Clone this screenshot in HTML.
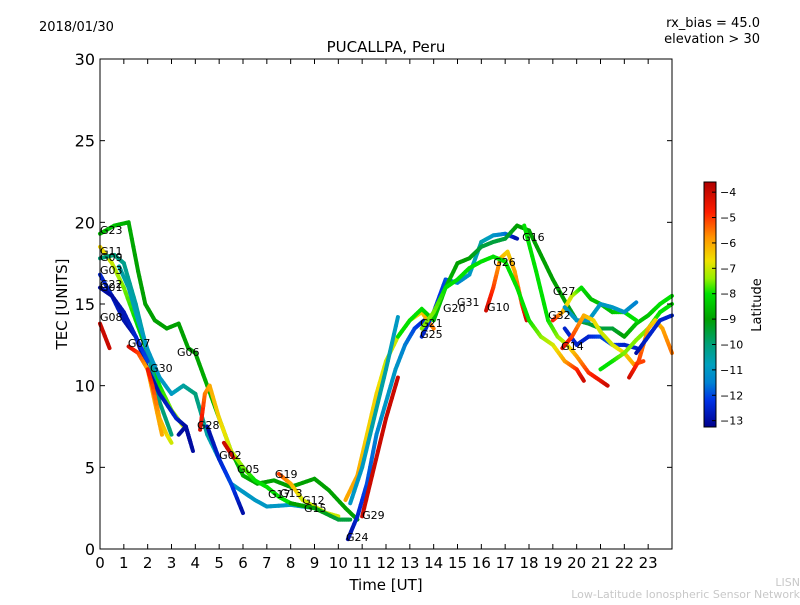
<!DOCTYPE html>
<html><head><meta charset="utf-8"><style>
body{margin:0;background:#fff;}
svg text{font-family:"DejaVu Sans","Liberation Sans",sans-serif;}
</style></head><body>
<svg id="chart" width="800" height="600" xmlns="http://www.w3.org/2000/svg">
<text x="39" y="31" font-size="13">2018/01/30</text>
<text x="760" y="27" font-size="13" text-anchor="end">rx_bias = 45.0</text>
<text x="760" y="43" font-size="13" text-anchor="end">elevation &gt; 30</text>
<text x="386" y="52" font-size="15" text-anchor="middle">PUCALLPA, Peru</text>
<text x="386" y="590" font-size="15" text-anchor="middle">Time [UT]</text>
<text transform="translate(67,304) rotate(-90)" font-size="15" text-anchor="middle">TEC [UNITS]</text>
<text transform="translate(761,305) rotate(-90)" font-size="13" text-anchor="middle">Latitude</text>
<text x="800" y="586" font-size="11" fill="#c8c8c8" text-anchor="end">LISN</text>
<text x="800" y="598" font-size="11" fill="#c8c8c8" text-anchor="end">Low-Latitude Ionospheric Sensor Network</text>
<g id="marks"></g>
<g id="labels"></g>
<rect x="100" y="59" width="572" height="490" fill="none" stroke="#000" stroke-width="1"/>
<g id="axes"></g>
<defs><linearGradient id="jet" x1="0" y1="1" x2="0" y2="0"></linearGradient></defs>
<rect x="704" y="182" width="12" height="245" fill="url(#jet)" stroke="#000" stroke-width="1"/>
<g id="cbar"></g>
</svg>
<script>
const xTicks = [0,1,2,3,4,5,6,7,8,9,10,11,12,13,14,15,16,17,18,19,20,21,22,23];
const yTicks = [0,5,10,15,20,25,30];
const cbTicks = [-4,-5,-6,-7,-8,-9,-10,-11,-12,-13];
const trackTimes = [
[0,0.6,1.2,1.6,1.9,2.3,2.8,3.3,3.7,4.0,4.5,5.0,5.5,6,6.6,7.3,8.0,9.0,9.6,10.3,10.8],
[0,0.5,1,1.5,2,2.5,3,3.5],
[0,0.6,1,1.5,2,2.5,3],
[0,0.5,1,1.5,2,2.5,3.2,3.6,3.8],
[0,0.5,1,1.5,2],
[0,0.4],
[1.2,1.6,2,2.3,2.6],
[0.8,1.2,1.6,2,2.5,3,3.5,4,4.5,5,5.5,6,6.5,7,8,9,9.5],
[2,2.2,2.5,2.8,3],
[4.2,4.4,4.6,5,5.5,6,6.5,7,7.5,8,9],
[5.2,5.6],
[4.5,5,5.5,6],
[7.5,8,8.5,9,9.5,10],
[8,9,10,10.5],
[3.3,3.6,3.9],
[10.4,10.8,11.2,11.6,12,12.4,12.8,13.2,13.6],
[10.3,10.8,11.2,11.6,12,12.5,13,13.5,14],
[11,11.5,12,12.5],
[10.5,11,11.5,12,12.5],
[13.5,14,14.5,15,15.5,16,16.5,17,17.5],
[12.5,13,13.5,14,14.5,15,15.5,16,16.5,17,17.5,18,18.5,19,19.5,20,20.5,21,21.5,22,22.5,23,23.5,24],
[16.2,16.5,16.8,17.1,17.4,17.7,17.9],
[13.5,14,14.5,15,15.5,16,16.5,17,17.5,18,18.5,19,19.5,20,20.3],
[17.8,18.3,18.8,19.2,19.6,20,20.5,21,21.3],
[19,19.4,19.8,20.2,20.6,21,21.5,22,22.5],
[19.5,20,20.5,21,21.5,22,22.5],
[19.5,20,20.5,21,21.5,22,22.5],
[19.4,19.8,20.3,20.7,21,21.5,22,22.4,22.8],
[21,21.5,22,22.5,23,23.5,24],
[22.2,22.6,23,23.3,23.6,24],
[22.5,23,23.5,24]
];
const trackTec = [
[19.3,19.8,20,17,15,14,13.5,13.8,12.3,12,10,8,6,4.5,4,4.2,3.8,4.3,3.6,2.5,1.8],
[18.5,17.5,16,14,12,10,8.5,7.5],
[17.8,18,17.5,15,12,9,7],
[16.8,15.5,14,13,11,9.5,8,7.5,6.5],
[16,15.5,14.5,13,11.5],
[13.8,12.3],
[12.4,12,11,9,7],
[17.3,16,14,12.2,10.5,9.5,10,9.5,7,5.5,4,3.5,3,2.6,2.7,2.5,2.2],
[11,10,8,7,6.5],
[7.3,9.5,10,8,6,5,4.2,3.8,3.2,2.8,2.5],
[6.5,5.6],
[7.5,5.5,4,2.2],
[4.6,4,3,2.6,2.2,2],
[2.8,2.5,1.8,1.8],
[7,7.5,6],
[0.6,2,4,7,9,11,12.5,13.5,14],
[3,4.5,7,9.5,11.5,13,14,14.5,13.5],
[2,5,8,10.5],
[2.8,5,8,11,14.2],
[13,14.5,16.5,16.3,16.8,18.8,19.2,19.3,19],
[13,14,14.7,14,16,17.5,17.8,18.5,18.8,19,19.8,19.5,18,16.5,15.2,14,13.8,13.5,13.5,13,13.8,14.3,15,15.5],
[14.6,16,17.8,18.2,17,15,14],
[13.5,14.5,16,16.5,17.2,17.6,17.9,17.6,16,14,13,12.5,11.5,11,10.3],
[19.8,17,14,13,12.5,11.8,10.8,10.3,10],
[14,14.5,15.5,16,15.3,15,14.5,14.5,14],
[14.8,14,14,15,14.8,14.5,15.1],
[13.5,12.5,13,13,12.5,12.5,12.3],
[12.3,13,14.3,14,13.3,12.5,12,11.3,11.5],
[11,11.5,12,12.8,13.5,14.5,15],
[10.5,11.5,13.5,14,13.5,12],
[12,13,14,14.3]
];
const trackLat = [
[-8.5,-8.5,-8.8,-9,-9,-9,-9,-9,-9,-9,-8.8,-8.5,-8.5,-8.8,-9,-9,-9,-9,-9,-9,-9],
[-6.5,-7,-7.5,-8,-8.5,-8,-7.5,-7],
[-10,-10,-10.2,-10.5,-10.5,-10,-10],
[-12.5,-12.5,-12.8,-13,-13,-12.8,-12.5,-13,-13],
[-13,-13,-12.8,-12.5,-12],
[-4,-4],
[-4,-5,-6,-6,-6],
[-10.5,-10.5,-10.8,-11,-11,-11,-10.5,-10,-10.5,-11,-11,-11,-11,-11,-11,-11,-11],
[-4.5,-5,-6,-6.5,-7],
[-4,-5.5,-6,-6.5,-7,-7.5,-8,-8,-8,-8,-8],
[-4,-4],
[-13,-12.5,-12,-13],
[-5,-6,-7,-7,-7,-7],
[-9,-9,-9.5,-9.5],
[-13,-13,-13],
[-13,-12.5,-12,-11.5,-11,-11,-11.5,-12,-12.5],
[-6,-6,-6.5,-6.5,-7,-7,-7,-6.5,-5.5],
[-4,-4,-4,-4],
[-11,-11,-10.5,-10.5,-11],
[-12.5,-12.5,-12,-11.5,-11,-10.5,-11,-11.5,-13],
[-8,-8,-8,-8.5,-8.5,-9,-9,-9.5,-9.5,-9.5,-9,-9,-9,-9,-9,-9.5,-9.5,-9.5,-9.5,-9,-8.5,-8.5,-8,-8],
[-4,-5,-6,-6.5,-6,-5,-4],
[-7.5,-7.5,-8,-8,-8,-8,-8,-8,-8,-8,-7.5,-7,-6,-5,-4],
[-8,-8,-8,-7.5,-7,-6,-5,-4.5,-4],
[-4.5,-6,-7,-8,-8.5,-8.5,-8.5,-8,-8],
[-11,-11,-11,-11,-11,-11,-11.5],
[-12.5,-12.5,-12.5,-12,-12,-12.5,-12.5],
[-4,-5,-6,-6.5,-7,-7,-6.5,-6,-5],
[-8,-8,-7.5,-7.5,-7.5,-8,-8],
[-4,-5,-6,-6.5,-6,-5.5],
[-13,-12.5,-12.5,-12.5]
];
const labelNames = ["G23","G11","G09","G03","G22","G01","G08","G07","G06","G30","G28","G02","G05","G19","G17","G13","G12","G15","G29","G24","G21","G25","G20","G31","G10","G26","G16","G27","G32","G14"];
const labelTimes = [0,0,0,0,0,0,0,1.17,3.23,2.1,4.07,5.0,5.75,7.34,7.05,7.55,8.48,8.56,11.0,10.32,13.43,13.43,14.39,14.98,16.24,16.5,17.71,19.0,18.8,19.35];
const labelTec = [19.53,18.25,17.88,17.09,16.23,16.05,14.21,12.62,12.06,11.08,7.59,5.76,4.9,4.59,3.37,3.43,2.99,2.51,2.08,0.73,13.84,13.17,14.76,15.13,14.82,17.57,19.11,15.80,14.33,12.43];

const NS="http://www.w3.org/2000/svg";
const X0=100,X1=672,Y0=549,Y1=59;
const xs=t=>X0+t*(X1-X0)/24;
const ys=v=>Y0-v*(Y0-Y1)/30;
const LMIN=-13.25,LMAX=-3.6;
const cy=l=>427-(l-LMIN)/(LMAX-LMIN)*245;
const CMAP=[[-13.25,[0,0,140]],[-12.2,[0,50,230]],[-11.5,[0,130,210]],[-10.8,[0,160,190]],[-10,[0,160,120]],[-9,[0,160,0]],[-8,[0,225,0]],[-7.4,[150,240,0]],[-6.7,[240,225,0]],[-5.8,[255,150,0]],[-4.8,[255,30,0]],[-3.6,[175,0,0]]];
function jet(l){l=Math.max(LMIN,Math.min(LMAX,l));
 for(let i=0;i<CMAP.length-1;i++){const[a,ca]=CMAP[i],[b,cb]=CMAP[i+1];
  if(l<=b){const f=(l-a)/(b-a);return 'rgb('+ca.map((c,k)=>Math.round(c+(cb[k]-c)*f)).join(',')+')';}}
 return 'rgb(175,0,0)';}
function mk(tag,attrs,parent){const e=document.createElementNS(NS,tag);for(const k in attrs)e.setAttribute(k,attrs[k]);parent.appendChild(e);return e;}
const grad=document.getElementById('jet');
CMAP.forEach(([l,c])=>{mk('stop',{offset:(l-LMIN)/(LMAX-LMIN),'stop-color':'rgb('+c.join(',')+')'},grad);});
const marks=document.getElementById('marks');
trackTimes.forEach((ts,i)=>{
 const g=mk('g',{},marks);
 
 
 for(let j=0;j<ts.length-1;j++){
  const N=6;
  for(let s=0;s<N;s++){
   const a=s/N,b=(s+1)/N;
   const t0=ts[j]+(ts[j+1]-ts[j])*a,t1=ts[j]+(ts[j+1]-ts[j])*b;
   const v0=trackTec[i][j]+(trackTec[i][j+1]-trackTec[i][j])*a,v1=trackTec[i][j]+(trackTec[i][j+1]-trackTec[i][j])*b;
   const l=trackLat[i][j]+(trackLat[i][j+1]-trackLat[i][j])*(a+b)/2;
   const ln=mk('line',{x1:xs(t0),y1:ys(v0),x2:xs(t1),y2:ys(v1),stroke:jet(l),'stroke-width':4,'stroke-linecap':'round'},g);
   
   
  }
 }
});
const lab=document.getElementById('labels');
labelNames.forEach((n,i)=>{
 const t=mk('text',{x:xs(labelTimes[i]),y:ys(labelTec[i])+4,'font-size':11},lab);
 t.textContent=n;
 
 
});
const ax=document.getElementById('axes');
xTicks.forEach(v=>{
 const x=xs(v);
 mk('line',{x1:x,y1:Y0,x2:x,y2:Y0-5,stroke:'#000'},ax);
 mk('line',{x1:x,y1:Y1,x2:x,y2:Y1+5,stroke:'#000'},ax);
 const t=mk('text',{x:x,y:568,'font-size':15,'text-anchor':'middle'},ax);
 t.textContent=v;
 
 
});
yTicks.forEach(v=>{
 const y=ys(v);
 mk('line',{x1:X0,y1:y,x2:X0+5,y2:y,stroke:'#000'},ax);
 mk('line',{x1:X1,y1:y,x2:X1-5,y2:y,stroke:'#000'},ax);
 const t=mk('text',{x:95,y:y+6,'font-size':16,'text-anchor':'end'},ax);
 t.textContent=v;
 
 
});
const cb=document.getElementById('cbar');
cbTicks.forEach(v=>{
 const y=cy(v);
 mk('line',{x1:712,y1:y,x2:716,y2:y,stroke:'#000'},cb);
 const t=mk('text',{x:720,y:y+4,'font-size':11},cb);
 t.textContent='\u2212'+Math.abs(v);
 
 
});
</script>
</body></html>
